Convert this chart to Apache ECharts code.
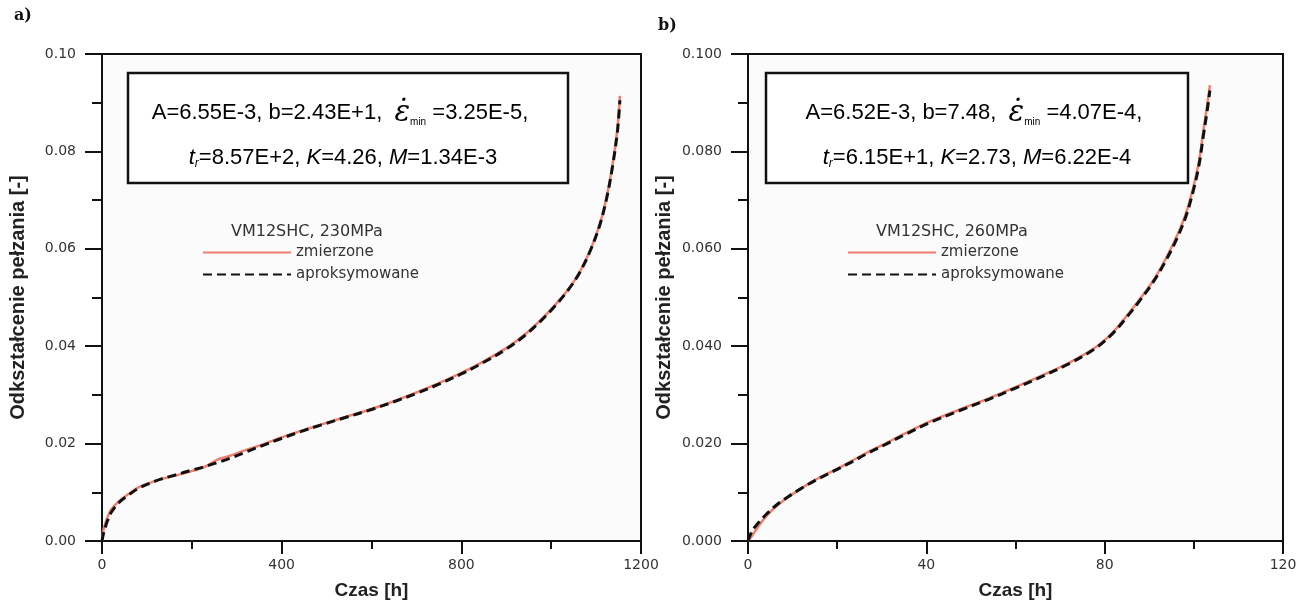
<!DOCTYPE html>
<html>
<head>
<meta charset="utf-8">
<script src="https://cdn.jsdelivr.net/npm/echarts@6/dist/echarts.min.js"></script>
<style>
  html, body { margin: 0; padding: 0; background: #ffffff; }
  #chart { width: 1303px; height: 605px; }
</style>
</head>
<body>
<div id="chart"></div>
<script>
// a) VM12SHC, 230 MPa — creep strain vs time
const timeA_measured = [0, 3, 8, 12, 20, 38, 60, 79, 105, 131, 165, 198, 230, 257, 285, 324, 360, 398, 440, 487, 540, 600, 650, 700, 750, 800, 850, 900, 940, 976, 1010, 1040, 1064, 1088, 1109, 1125, 1138, 1148, 1153];
const strainA_measured = [0, 0.0022, 0.0038, 0.0048, 0.0064, 0.0082, 0.0097, 0.0109, 0.0119, 0.0127, 0.0135, 0.0143, 0.0153, 0.0167, 0.0175, 0.0188, 0.0199, 0.0212, 0.0225, 0.0239, 0.0254, 0.0271, 0.0287, 0.0305, 0.0324, 0.0345, 0.0369, 0.0396, 0.0423, 0.0453, 0.0486, 0.0519, 0.0553, 0.0599, 0.0653, 0.0713, 0.0781, 0.0851, 0.0914];
const timeA_fit = [0, 3, 8, 12, 20, 38, 60, 79, 105, 131, 165, 198, 230, 257, 285, 324, 360, 398, 440, 487, 540, 600, 650, 700, 750, 800, 850, 900, 940, 976, 1010, 1040, 1064, 1088, 1109, 1125, 1138, 1148, 1153];
const strainA_fit = [0, 0.0014, 0.0030, 0.0041, 0.0058, 0.0079, 0.0095, 0.0107, 0.0118, 0.0127, 0.0136, 0.0145, 0.0153, 0.0161, 0.0170, 0.0184, 0.0197, 0.0210, 0.0224, 0.0238, 0.0253, 0.0270, 0.0286, 0.0303, 0.0322, 0.0343, 0.0367, 0.0394, 0.0421, 0.0451, 0.0484, 0.0518, 0.0552, 0.0598, 0.0651, 0.0710, 0.0777, 0.0845, 0.0905];

// b) VM12SHC, 260 MPa — creep strain vs time
const timeB_measured = [0, 1, 2.2, 4, 6.4, 9, 11.6, 15, 19.1, 23, 26.6, 31, 35.5, 41, 47.5, 54, 60, 66, 72, 78, 82, 84.9, 88, 90.9, 93.5, 96.1, 98.2, 99.9, 101.2, 102.1, 103, 103.6];
const strainB_measured = [0, 0.0012, 0.0028, 0.0050, 0.0072, 0.0090, 0.0106, 0.0125, 0.0144, 0.0163, 0.0181, 0.0201, 0.0222, 0.0246, 0.0270, 0.0293, 0.0316, 0.0340, 0.0366, 0.0398, 0.0430, 0.0462, 0.0498, 0.0535, 0.0576, 0.0624, 0.0672, 0.0727, 0.0782, 0.0840, 0.0895, 0.0936];
const timeB_fit = [0, 1, 2.2, 4, 6.4, 9, 11.6, 15, 19.1, 23, 26.6, 31, 35.5, 41, 47.5, 54, 60, 66, 72, 78, 82, 84.9, 88, 90.9, 93.5, 96.1, 98.2, 99.9, 101.2, 102.1, 103, 103.6];
const strainB_fit = [0, 0.0022, 0.0036, 0.0054, 0.0074, 0.0091, 0.0106, 0.0124, 0.0143, 0.0161, 0.0179, 0.0199, 0.0220, 0.0244, 0.0268, 0.0291, 0.0314, 0.0338, 0.0364, 0.0396, 0.0428, 0.0459, 0.0495, 0.0532, 0.0572, 0.0619, 0.0666, 0.0720, 0.0774, 0.0830, 0.0884, 0.0925];

// axis ranges and tick steps
const xMaxA = 1200, xStepA = 400;
const xMaxB = 120, xStepB = 40;
const yMax = 0.10, yStep = 0.02;

// legend / annotation texts
const seriesNames = ['zmierzone', 'aproksymowane'];
const legendTitleA = 'VM12SHC, 230MPa';
const legendTitleB = 'VM12SHC, 260MPa';
const paramsA = ['6.55E-3', '2.43E+1', '3.25E-5', '8.57E+2', '4.26', '1.34E-3'];
const paramsB = ['6.52E-3', '7.48', '4.07E-4', '6.15E+1', '2.73', '6.22E-4'];
const xTitle = 'Czas [h]';
const yTitle = 'Odkształcenie pełzania [-]';

const pairs = (t, e) => t.map((v, i) => [v, e[i]]);

const RED = '#f07f6e';
const INK = '#111111';
const LABEL = '#333333';
const SANS = '"Liberation Sans", Arial, sans-serif';
const WIDE = '"DejaVu Sans", sans-serif';

function xAxisCfg(grid, max, step) {
  return {
    type: 'value', gridIndex: grid, min: 0, max: max, interval: step,
    name: xTitle, nameLocation: 'middle', nameGap: 40,
    nameTextStyle: { fontFamily: SANS, fontWeight: 'bold', fontSize: 19, color: '#222' },
    axisLine: { show: true, onZero: false, lineStyle: { color: INK, width: 2 } },
    axisTick: { show: true, length: 13, lineStyle: { color: INK, width: 2 } },
    minorTick: { show: true, splitNumber: 2, length: 8, lineStyle: { color: INK, width: 2 } },
    axisLabel: { margin: 17, fontFamily: WIDE, fontSize: 14, color: LABEL,
      formatter: v => String(v) },
    splitLine: { show: false }
  };
}

function yAxisCfg(grid, digits) {
  return {
    type: 'value', gridIndex: grid, min: 0, max: yMax, interval: yStep,
    name: yTitle, nameLocation: 'middle', nameGap: 74,
    nameTextStyle: { fontFamily: SANS, fontWeight: 'bold', fontSize: 20, color: '#222' },
    axisLine: { show: true, onZero: false, lineStyle: { color: INK, width: 2 } },
    axisTick: { show: true, length: 17, lineStyle: { color: INK, width: 2 } },
    minorTick: { show: true, splitNumber: 2, length: 10, lineStyle: { color: INK, width: 2 } },
    axisLabel: { margin: 26, fontFamily: WIDE, fontSize: 14, color: LABEL,
      formatter: v => v.toFixed(digits) },
    splitLine: { show: false }
  };
}

function measuredSeries(axis, data) {
  return {
    name: seriesNames[0], type: 'line', xAxisIndex: axis, yAxisIndex: axis,
    data: data, smooth: 0.35, symbol: 'none', z: 2,
    lineStyle: { color: RED, width: 2.5 }, itemStyle: { color: RED }
  };
}

function fitSeries(axis, data) {
  return {
    name: seriesNames[1], type: 'line', xAxisIndex: axis, yAxisIndex: axis,
    data: data, smooth: 0.35, symbol: 'none', z: 3,
    lineStyle: { color: INK, width: 3, type: [9, 5] }, itemStyle: { color: INK }
  };
}

function legendCfg(left, top) {
  return {
    data: seriesNames, orient: 'vertical', left: left, top: top, padding: 0,
    itemWidth: 88, itemHeight: 14, itemGap: 7, itemStyle: { opacity: 0 },
    selectedMode: false,
    textStyle: { fontFamily: WIDE, fontSize: 15, color: '#333' }
  };
}

// parameter box: rectangle with two centred rich-text lines
const rich = {
  n: { fontFamily: SANS, fontSize: 22, color: INK },
  i: { fontFamily: SANS, fontSize: 22, fontStyle: 'italic', color: INK },
  e: { fontFamily: '"DejaVu Serif", serif', fontSize: 29, fontStyle: 'italic', color: INK },
  s: { fontFamily: SANS, fontSize: 10, color: '#333', padding: [18, 0, 0, 0] },
  r: { fontFamily: SANS, fontSize: 12, fontStyle: 'italic', color: INK, padding: [12, 0, 0, 0] }
};

function paramBox(x, y, w, h, p, dx) {
  const cx = x + w / 2 + dx;
  return [
    { type: 'rect', shape: { x: x, y: y, width: w, height: h },
      style: { fill: '#ffffff', stroke: INK, lineWidth: 2.5 }, z: 10 },
    { type: 'text', x: cx - 3, y: y + 40, z: 11,
      style: { text: '{n|A=' + p[0] + ', b=' + p[1] + ',  }{e|\u03B5\u0307}{s|min}{n| =' + p[2] + ',}',
        rich: rich, align: 'center', verticalAlign: 'middle' } },
    { type: 'text', x: cx, y: y + 85, z: 11,
      style: { text: '{i|t}{r|r}{n|=' + p[3] + ', }{i|K}{n|=' + p[4] + ', }{i|M}{n|=' + p[5] + '}',
        rich: rich, align: 'center', verticalAlign: 'middle' } }
  ];
}

const chart = echarts.init(document.getElementById('chart'), null, { renderer: 'canvas' });

const legendTitleStyle = { fontFamily: WIDE, fontWeight: 'normal', fontSize: 16, color: '#333' };
const panelLabelStyle = { fontFamily: '"DejaVu Serif", serif', fontWeight: 'bold', fontSize: 16, color: '#111' };

chart.setOption({
  backgroundColor: '#ffffff',
  animation: false,
  title: [
    { text: 'a)', left: 9, top: 3, textStyle: panelLabelStyle },
    { text: 'b)', left: 653, top: 13, textStyle: panelLabelStyle },
    { text: legendTitleA, left: 231, top: 224, padding: 0, textStyle: legendTitleStyle },
    { text: legendTitleB, left: 876, top: 224, padding: 0, textStyle: legendTitleStyle }
  ],
  legend: [legendCfg(202, 245), legendCfg(847, 245)],
  grid: [
    { left: 102, top: 54, width: 539, height: 488, show: true, backgroundColor: '#fbfbfb', borderColor: INK, borderWidth: 2 },
    { left: 748, top: 54, width: 535, height: 488, show: true, backgroundColor: '#fbfbfb', borderColor: INK, borderWidth: 2 }
  ],
  xAxis: [xAxisCfg(0, xMaxA, xStepA), xAxisCfg(1, xMaxB, xStepB)],
  yAxis: [yAxisCfg(0, 2), yAxisCfg(1, 3)],
  series: [
    measuredSeries(0, pairs(timeA_measured, strainA_measured)),
    fitSeries(0, pairs(timeA_fit, strainA_fit)),
    measuredSeries(1, pairs(timeB_measured, strainB_measured)),
    fitSeries(1, pairs(timeB_fit, strainB_fit))
  ],
  graphic: [].concat(paramBox(128, 73, 440, 110, paramsA, -5), paramBox(766, 73, 422, 110, paramsB, 0))
});
</script>
</body>
</html>
